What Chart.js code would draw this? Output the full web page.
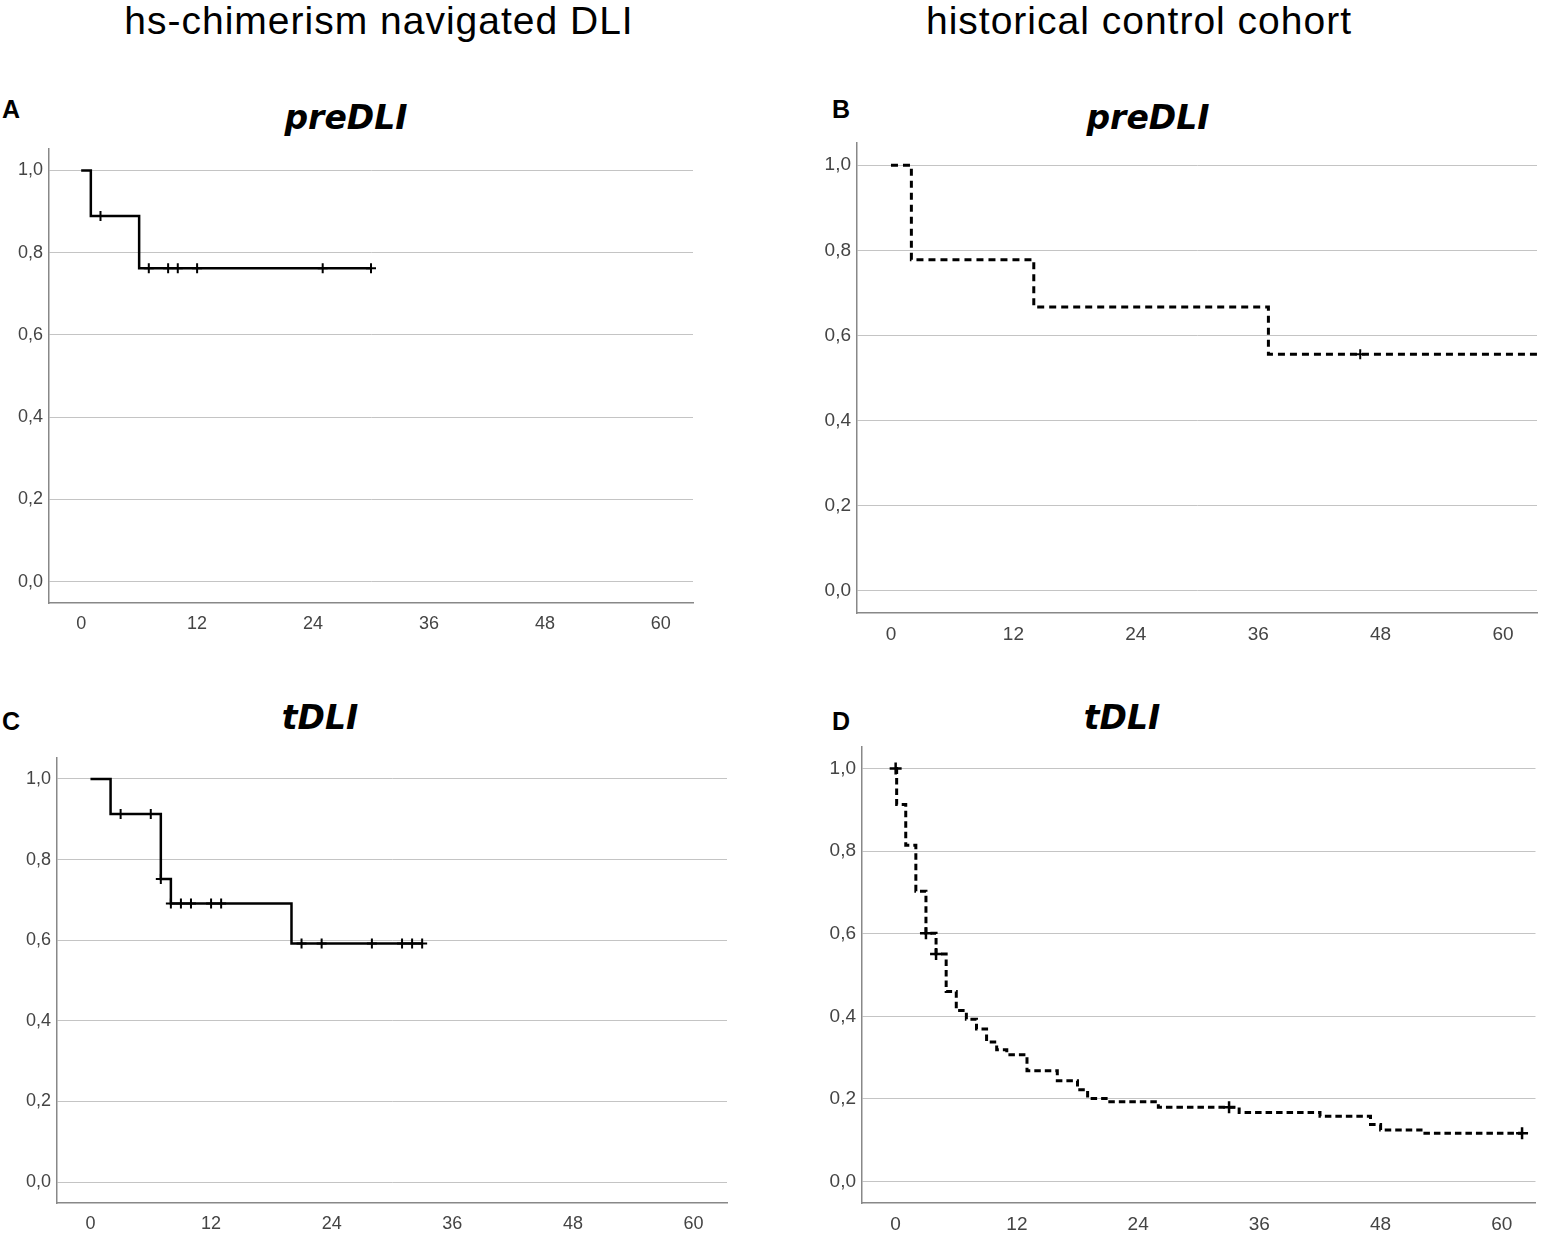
<!DOCTYPE html>
<html>
<head>
<meta charset="utf-8">
<script src="https://cdn.jsdelivr.net/npm/chart.js@4.4.1/dist/chart.umd.min.js"></script>
<style>
  body { margin: 0; background: #fff; }
  #page { position: relative; width: 1544px; height: 1243px; overflow: hidden;
          font-family: "Liberation Sans", Arial, sans-serif; color: #000; }
  .head { position: absolute; width: 700px; text-align: center; font-size: 39px;
          line-height: 1; letter-spacing: 1px; white-space: nowrap; }
  .tag { position: absolute; font-size: 25px; font-weight: bold; line-height: 1; }
  .ptitle { position: absolute; width: 300px; text-align: center; font-family: "DejaVu Sans", sans-serif;
            font-size: 33px; font-weight: bold; font-style: italic; line-height: 1; }
  .panel { position: absolute; }
</style>
</head>
<body>
<div id="page">
  <div class="head" style="left:29px; top:1px;">hs-chimerism navigated DLI</div>
  <div class="head" style="left:789px; top:1px;">historical control cohort</div>

  <div class="tag" style="left:2px; top:97px;">A</div>
  <div class="tag" style="left:832px; top:97px;">B</div>
  <div class="tag" style="left:2px; top:709px;">C</div>
  <div class="tag" style="left:832px; top:709px;">D</div>

  <div class="ptitle" style="left:196px; top:101px;">preDLI</div>
  <div class="ptitle" style="left:998px; top:101px;">preDLI</div>
  <div class="ptitle" style="left:170px; top:701px;">tDLI</div>
  <div class="ptitle" style="left:972px; top:701px;">tDLI</div>
</div>

<script>
// axes
const xTicks = [0, 12, 24, 36, 48, 60];
const yTicks = [0, 0.2, 0.4, 0.6, 0.8, 1.0];
const yTickLabels = ["0,0", "0,2", "0,4", "0,6", "0,8", "1,0"];

// A - hs-chimerism navigated DLI, preDLI
const aTimes = [0, 1, 6, 30];
const aSurv = [1, 0.889, 0.762, 0.762];
const aCensored = [2, 7, 9, 10, 12, 25, 30];

// B - historical control, preDLI
const bTimes = [0, 2, 14, 37, 64];
const bSurv = [1, 0.778, 0.667, 0.556, 0.556];
const bCensored = [46];

// C - hs-chimerism navigated DLI, tDLI
const cTimes = [0, 2, 7, 8, 20, 33];
const cSurv = [1, 0.913, 0.752, 0.691, 0.592, 0.592];
const cCensored = [3, 6, 7, 8, 9, 10, 12, 13, 21, 23, 28, 31, 32, 33];

// D - historical control, tDLI
const dTimes = [0, 0.1, 1, 2, 3, 4, 5, 6, 7, 8, 9, 10, 11, 13, 16, 18, 19, 21, 26, 34, 42, 47, 48, 52, 62];
const dSurv = [1, 0.913, 0.814, 0.703, 0.601, 0.551, 0.460, 0.414, 0.393, 0.369, 0.338, 0.319, 0.307,
               0.268, 0.244, 0.222, 0.201, 0.193, 0.180, 0.167, 0.158, 0.138, 0.125, 0.117, 0.117];
const dCensored = [0, 3, 4, 33, 62];

// survival level of the step curve at time t (for the censor marks)
function survAt(times, surv, t) {
  let s = surv[0];
  times.forEach((tt, i) => { if (tt <= t) s = surv[i]; });
  return s;
}

function makePanel(box, times, surv, censored, look) {
  const yW = 50, xH = 42, padTop = 20, rightFix = 7;
  const left = Math.round(box.l) - yW;
  const top = Math.round(box.t) - padTop;

  const div = document.createElement("div");
  div.className = "panel";
  div.style.left = left + "px";
  div.style.top = top + "px";
  div.style.width = (Math.round(box.r) + rightFix - left) + "px";
  div.style.height = (Math.round(box.b) + xH - top) + "px";
  const cv = document.createElement("canvas");
  div.appendChild(cv);
  document.getElementById("page").appendChild(div);

  const tickFont = { family: "'Liberation Sans', Arial, sans-serif", size: look.font };

  new Chart(cv, {
    type: "line",
    data: {
      datasets: [
        {
          data: times.map((t, i) => ({ x: t, y: surv[i] })),
          stepped: "before",
          borderColor: "#000",
          borderWidth: look.width,
          borderDash: look.dash,
          borderCapStyle: "butt",
          pointRadius: 0,
          fill: false
        },
        {
          data: censored.map(t => ({ x: t, y: survAt(times, surv, t) })),
          showLine: false,
          pointStyle: "cross",
          pointRadius: look.mark,
          pointBorderWidth: look.markWidth,
          pointBorderColor: "#000",
          borderColor: "#000"
        }
      ]
    },
    options: {
      responsive: true,
      maintainAspectRatio: false,
      animation: false,
      layout: { padding: { top: padTop, right: 0, left: 0, bottom: 0 } },
      plugins: { legend: { display: false }, tooltip: { enabled: false } },
      scales: {
        x: {
          type: "linear",
          min: -3.33,
          max: 63.33,
          grid: { display: false },
          border: { display: true, color: "#888", width: 1.5 },
          afterBuildTicks: s => { s.ticks = xTicks.map(v => ({ value: v })); },
          afterFit: s => { s.height = xH; },
          ticks: { padding: 2, color: "#444", font: tickFont, maxRotation: 0, autoSkip: false,
                   callback: v => String(v) }
        },
        y: {
          min: -0.052,
          max: 1.052,
          grid: { color: "#c4c4c4", lineWidth: 1, drawTicks: false },
          border: { display: true, color: "#888", width: 1.5 },
          afterBuildTicks: s => { s.ticks = yTicks.map(v => ({ value: v })); },
          afterFit: s => { s.width = yW; },
          ticks: { padding: 6, color: "#444", font: tickFont, autoSkip: false,
                   callback: (v, i) => yTickLabels[i] }
        }
      }
    }
  });
}

const solid = { width: 2.5, dash: [], mark: 5, markWidth: 2, font: 18 };
const dashedB = { width: 3, dash: [7, 5], mark: 5, markWidth: 2, font: 19 };
const dashedD = { width: 3, dash: [6.5, 4], mark: 6, markWidth: 2.5, font: 19 };

makePanel({ l: 49, r: 693, t: 149, b: 603 }, aTimes, aSurv, aCensored, solid);
makePanel({ l: 857, r: 1537, t: 143, b: 613 }, bTimes, bSurv, bCensored, dashedB);
makePanel({ l: 57, r: 727, t: 758, b: 1203 }, cTimes, cSurv, cCensored, solid);
makePanel({ l: 862, r: 1537, t: 747, b: 1203 }, dTimes, dSurv, dCensored, dashedD);
</script>
</body>
</html>
